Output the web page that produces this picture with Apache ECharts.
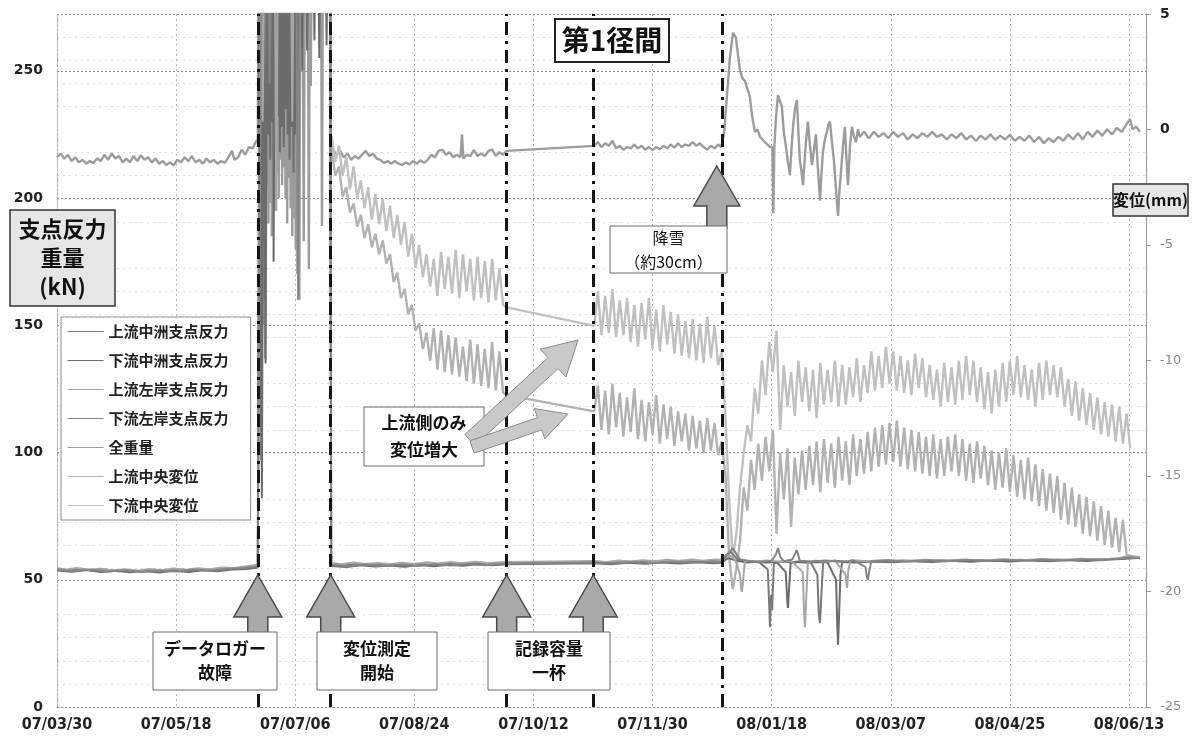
<!DOCTYPE html>
<html><head><meta charset="utf-8">
<script src="https://cdn.jsdelivr.net/npm/echarts@6/dist/echarts.min.js"></script>
<style>html,body{margin:0;padding:0;background:#fff}#c{width:1196px;height:744px}</style>
</head><body><div id="c"></div>
<script>
// ---------------- DATA ----------------
// x values are days since 2007/03/30
const seriesNames = ['上流中洲支点反力','下流中洲支点反力','上流左岸支点反力','下流左岸支点反力','全重量','上流中央変位','下流中央変位'];
const xTickInterval = 49;           // days between date labels (07/03/30, 07/05/18, ...)
const xMaxDay = 448;
const leftTicks = [0, 50, 100, 150, 200, 250];
const rightTicks = [-25, -20, -15, -10, -5, 0, 5];
// event days: データロガー故障, 変位測定開始, 記録容量一杯 (start / end), 降雪
const eventDays = [82.6, 112.6, 185, 220.6, 273.5];

// 上流中洲支点反力 (kN)
const reactUpMid = [[0,54.2],[5,53.6],[10,54.3],[15,53.5],[20,54],[25,53.3],[30,53.8],[35,53.2],[40,53.9],[45,53.4],[50,54.1],[55,53.6],[60,54.2],[65,53.9],[70,54.6],[75,54.3],[80,55.1],[82.6,55.6],
 [83.3,300],[84,97],[84.7,300],[85.5,160],[86.2,300],[112.4,300],
 [112.8,56.2],[118,55.6],[124,56.3],[130,55.7],[136,56.1],[142,55.6],[148,56.3],[154,55.9],[160,56.5],[166,56],[172,56.6],[178,56.2],[185,56.6],
 [221,57.1],[227,56.7],[233,57.3],[239,56.9],[245,57.4],[251,57],[257,57.5],[263,57.1],[269,57.6],[273.5,57.3],
 [275,59.5],[277,61],[279,59],[281,57.5],[285,57.2],[289,56.8],[292.4,54],[293,40],[293.3,31.4],[293.8,44],[294.2,38],[294.9,56.5],[298,57.2],[302,56.9],[306,57.3],[310,57],[312.8,52],[313.4,36],[313.9,33],[314.5,45],[315.2,57],[320,57.5],[326,57],[332,57.4],[340,57.1],[348,57.6],[356,57.2],[364,57.7],[372,57.3],[380,57.8],[388,57.4],[396,57.9],[404,57.5],[412,58],[420,57.6],[428,58.1],[436,58.3],[442,59],[445.5,58.4]];
// 下流中洲支点反力 (kN)
const reactDownMid = [[0,53.6],[6,53.1],[12,53.8],[18,53],[24,53.5],[30,52.9],[36,53.4],[42,52.8],[48,53.5],[54,53],[60,53.7],[66,53.3],[72,54],[78,54.2],[82.6,54.8],
 [83.5,300],[84.3,82],[85,300],[85.8,135],[86.5,300],[86.9,225],[87.3,300],[87.7,215],[88.1,300],[88.5,230],[88.9,300],[89.1,175],[89.7,300],[90.1,220],[90.5,300],[90.9,232],[91.3,300],[91.7,218],[92.1,300],[92.5,228],[92.9,300],[93.3,220],[93.7,300],[94.1,235],[94.5,300],[94.9,225],[95.3,300],[95.7,215],[96.1,300],[96.5,228],[96.9,300],[97.3,210],[97.7,300],[98.1,225],[98.5,300],[98.9,240],[99.3,300],[100.5,300],[100.9,250],[101.3,300],[102.5,300],[102.9,258],[103.3,300],[105.5,300],[105.9,262],[106.3,300],[107.5,300],[107.9,255],[108.3,300],[110.5,300],[110.9,260],[111.3,300],[112.4,300],
 [112.8,55.4],[119,55],[125,55.7],[131,55.2],[137,55.6],[143,55.1],[149,55.8],[155,55.3],[161,55.9],[167,55.5],[173,56.1],[179,55.7],[185,56.1],
 [221,56.5],[228,56.1],[235,56.7],[242,56.3],[249,56.8],[256,56.4],[263,56.9],[270,56.5],[273.5,56.7],
 [276,58.5],[280,57.5],[284,56.8],[288,57.1],[292,56.8],[296,57],[299.8,53],[300.4,42],[300.7,38.9],[301.2,47],[301.8,56.5],[305,57],[309,56.7],[313,57],[317,56.8],[320.5,50],[321,32],[321.3,24.4],[321.7,35],[322.3,52],[323,57],[328,56.8],[336,57.2],[344,56.9],[352,57.4],[360,57],[368,57.5],[376,57.1],[384,57.6],[392,57.2],[400,57.7],[408,57.3],[416,57.8],[424,57.4],[432,58],[438,58.2],[445.5,58.6]];
// 上流左岸支点反力 (kN)
const reactUpLeft = [[0,54.5],[4,54],[8,54.6],[13,53.8],[18,54.3],[23,53.6],[28,54.1],[33,53.5],[38,54.2],[43,53.7],[48,54.4],[53,53.9],[58,54.5],[63,54.1],[68,54.8],[73,54.6],[78,55.3],[82.6,55.9],
 [83.8,300],[84.6,230],[85.3,300],[89.6,300],[90.2,195],[90.9,300],[96.2,300],[96.8,230],[97.4,300],[112.4,300],
 [112.8,56.6],[117,56.1],[122,56.8],[127,56.2],[132,56.6],[137,56.1],[142,56.7],[147,56.2],[152,56.9],[157,56.4],[162,57],[167,56.5],[172,57.1],[177,56.6],[185,57],
 [221,57.4],[226,57],[231,57.6],[236,57.2],[241,57.7],[246,57.3],[251,57.9],[256,57.4],[261,58],[266,57.5],[271,58],[273.5,57.8],
 [276,60],[279,58],[281,52],[281.5,46],[281.8,45.2],[282.3,50],[283,57.5],[287,57.2],[292,57.6],[297,57.2],[302,57.5],[306.8,53],[307.3,38],[307.7,31.4],[308.2,42],[308.9,57],[312,57.5],[316,57.2],[320,57.6],[324.4,52],[325,46.8],[325.6,54],[326.5,57.8],[333,57.3],[341,57.8],[349,57.4],[357,57.9],[365,57.5],[373,58],[381,57.6],[389,58.1],[397,57.7],[405,58.2],[413,57.8],[421,58.3],[429,57.9],[437,58.5],[441,59.5],[445.5,58.8]];
// 下流左岸支点反力 (kN)
const reactDownLeft = [[0,53.9],[7,53.3],[14,54],[21,53.2],[28,53.7],[35,53],[42,53.6],[49,53.2],[56,53.9],[63,53.5],[70,54.2],[77,54.6],[82.6,55.2],
 [84,300],[86.8,300],[87.5,245],[88.2,300],[98.4,300],[99.2,160],[100,300],[112.4,300],
 [112.8,55.8],[120,55.3],[127,56],[134,55.4],[141,55.9],[148,55.4],[155,56.1],[162,55.6],[169,56.2],[176,55.7],[185,56.3],
 [221,56.8],[229,56.4],[237,57],[245,56.6],[253,57.1],[261,56.7],[269,57.2],[273.5,57],
 [276,60],[278.1,62.5],[279.5,60],[281,58],[285,57.4],[290,57],[294,57.5],[295.8,60],[296.6,62.5],[297.5,59],[299,57.3],[302.5,58],[304.4,61.7],[305.6,57.5],[310,57.2],[316,57.6],[322,57.1],[328,57.5],[332.6,55],[333.2,51],[333.6,49.9],[334.1,53],[335,57.3],[342,57.6],[350,57.2],[358,57.7],[366,57.3],[374,57.8],[382,57.4],[390,57.9],[398,57.5],[406,58],[414,57.6],[422,58.1],[430,57.7],[438,58.4],[445.5,58.5]];

// 全重量 (kN)
const totalWeight = [[0,216],[1.5,217.5],[3,215.5],[4.5,217],[6,214.5],[7.5,216],[9,214],[10.5,215],[12,213.5],[13.5,214.5],[15,213.8],[16.5,215.5],[18,214.5],[19.5,217],[21,215],[22.5,217.5],[24,215.5],[25.5,216.5],[27,214],[28.5,215.5],[30,214],[31.5,216.5],[33,214.5],[34.5,216.8],[36,215],[37.5,216],[39,214],[40.5,215.5],[42,213.5],[43.5,214.5],[45,213],[46.5,214],[48,212.8],[49.5,215],[51,214],[52.5,216],[54,214.5],[55.5,216.5],[57,214],[58.5,215],[60,213.5],[61.5,215.5],[63,214],[64.5,215],[66,213.5],[67.5,214.5],[69,213.8],[70.5,216],[72,218.5],[73,215],[74.5,216],[76,219],[77.5,217],[79,220],[80.5,219.5],[81.5,221.5],[82.6,223],
 [83,300],[83.6,300],[84.1,240],[84.5,300],[84.9,150],[85.3,300],[85.6,137],[86,300],[86.3,205],[86.7,300],[87,190],[87.4,300],[87.7,198],[88.1,300],[88.4,185],[88.8,300],[89.1,205],[89.5,300],[89.8,195],[90.2,300],[90.5,210],[90.9,300],[91.2,200],[91.6,300],[91.9,215],[92.3,300],[92.6,205],[93,300],[93.3,212],[93.7,300],[94,200],[94.4,300],[94.7,190],[95.1,300],[95.4,208],[95.8,300],[96.1,196],[96.5,300],[96.8,185],[97.2,300],[97.5,192],[97.9,300],[98.2,180],[98.6,300],[98.9,170],[99.3,300],[99.7,160],[100.1,300],[101,300],[101.5,183],[102,300],[103.2,300],[103.6,172],[104,300],[104.4,244],[104.8,300],[108.6,300],[109,189],[109.4,300],[112.3,300],
 [112.6,222],[113.5,219],[115,217],[116.5,218.5],[118,216],[119.5,217.5],[121,215],[122.5,216.5],[124,215.5],[125.5,217],[127,218.5],[128.5,216.5],[130,217.5],[131.5,215.5],[133,215],[134.5,213.8],[136,214.5],[137.5,213.5],[139,214.5],[140.5,213.5],[142,213],[143.5,214],[145,213.2],[146.5,214.5],[148,213.5],[149.5,214.8],[151,213.8],[152.5,215],[154,217],[155.5,216],[157,218.5],[158.5,219],[160,217],[161.5,218],[163,216],[164.5,217],[166,216],[166.6,225],[167.2,215.5],[168.5,217],[170,216.5],[171.5,218.8],[173,216.5],[174.5,217.5],[176,216.5],[177.5,218.5],[179,219],[180.5,216.5],[182,218],[183.5,217],[185,218.5],
 [221,220.5],[222.5,222],[224,220],[225.5,221.5],[227,220.5],[228.5,222.5],[230,219.5],[231.5,220.5],[233,219],[234.5,220],[236,219.5],[237.5,221],[239,219.5],[240.5,220.5],[242,219],[243.5,220],[245,218.8],[246.5,220],[248,219.2],[249.5,220.5],[251,219.5],[252.5,221],[254,219.8],[255.5,221.5],[257,220],[258.5,221],[260,220.5],[261.5,222],[263,220.5],[264.5,221.5],[266,220],[267.5,219],[269,220.5],[270.5,219.5],[272,221],[273.3,220],
 [274.5,226],[275.6,240],[276.8,255],[278.1,265],[279.3,263],[280.2,256],[281,250],[282,247],[283,246],[284,243],[285,240],[286,232],[287.1,226],[288.2,227],[289.2,224],[290.2,223],[291.2,222],[292.3,221],[293.3,220],[294.3,220],[294.7,194],[295.1,220],[295.8,232],[296.6,240.4],[297.4,238],[298.2,236],[299,226],[299.9,220],[300.7,214],[301.5,209],[302.2,220],[302.8,228],[303.6,235],[304.4,238.5],[305,226],[305.6,215],[306.2,211],[306.9,205],[307.5,214],[308.1,222],[308.9,230],[309.7,221],[310.6,213],[311.4,219],[312.2,225],[313,212],[313.9,199],[314.5,210],[315.1,218],[315.9,223],[316.7,226],[317.4,229],[318,230],[318.8,222],[319.6,215],[320.5,203],[321.3,193],[321.9,203],[322.5,210],[323.3,220],[324.1,228],[324.8,215],[325.4,205],[326.2,220],[327,228],[327.9,224],[328.7,222],[329.5,227],[330.3,224],[332,226],[334,223.5],[336,226],[338,224],[340,225.5],[342,223.5],[344,226],[346,224],[348,225.5],[350,223],[352,225],[354,223.5],[356,225.5],[358,224],[360,226],[362,224],[364,225],[366,223],[368,225],[370,223.5],[372,225.5],[374,223],[376,224.5],[378,222.5],[380,224.5],[382,223],[384,225],[386,222.8],[388,224.5],[390,223],[392,224.8],[394,222.5],[396,224],[398,222.5],[400,224.5],[402,222],[404,224],[406,221.5],[408,223.5],[410,222],[412,224],[414,222.5],[416,225],[418,223],[420,225.5],[422,223],[424,226],[426,224],[428,226.5],[430,224.5],[432,227],[434,225],[436,227.5],[438,226],[440,229],[441.4,231],[442.5,227],[444,228],[445.5,226]];

// displacement (mm), logged every DISP_STEP days from each segment start
const DISP_STEP = 1.5;
const upDispSeg1 = {start:113, values:[-0.9,-2.0,-1.6,-2.9,-2.5,-3.6,-3.2,-4.2,-3.7,-4.7,-4.1,-5.1,-4.5,-5.4,-4.8,-5.8,-5.4,-6.6,-6.2,-7.3,-6.9,-8.0,-7.6,-8.7,-8.4,-9.5,-8.8,-10.0,-8.6,-10.4,-8.7,-10.5,-8.9,-10.6,-9.0,-10.7,-9.4,-10.9,-9.1,-11.0,-9.3,-11.1,-9.5,-11.2,-9.2,-11.3,-9.6,-11.4,-11.5]};
const upDispSeg2 = {start:221, values:[-12.2,-11.1,-13.0,-11.3,-13.2,-11.0,-12.9,-11.4,-13.3,-11.6,-13.1,-11.2,-13.4,-11.7,-13.5,-11.8,-13.2,-11.5,-13.6,-11.9,-13.4,-12.0,-13.7,-12.2,-13.5,-12.3,-13.9,-12.4,-13.8,-12.6,-14.0,-12.5,-13.9,-12.7,-14.1,-13.5]};
const upDispSeg3 = {start:275, values:[-15.0,-18.5,-19.9,-19.0,-17.8,-15.5,-16.5,-14.3,-15.6,-13.6,-15.2,-13.3,-14.8,-13.0,-17.5,-14.0,-16.0,-13.8,-17.2,-14.2,-15.8,-13.9,-15.6,-13.7,-15.4,-13.5,-15.7,-13.4,-15.3,-13.6,-15.5,-13.3,-15.2,-13.5,-15.4,-13.2,-15.0,-13.4,-14.9,-13.1,-14.8,-12.9,-14.6,-12.8,-14.5,-12.7,-14.4,-12.6,-14.6,-12.9,-14.7,-13.0,-14.8,-13.1,-14.9,-13.3,-15.0,-13.2,-15.1,-13.4,-15.0,-13.3,-14.8,-13.2,-15.0,-13.4,-15.2,-13.6,-15.3,-13.5,-15.1,-13.7,-15.4,-13.9,-15.6,-14.0,-15.5,-13.8,-15.7,-14.1,-15.9,-14.3,-16.0,-14.2,-16.1,-14.5,-16.3,-14.7,-16.5,-14.9,-16.6,-15.0,-16.9,-15.3,-17.1,-15.5,-17.2,-15.8,-17.5,-15.9,-17.6,-16.1,-17.8,-16.3,-18.0,-16.5,-18.1,-16.8,-18.3,-16.9,-18.4,-18.6]};
const downDispSeg1 = {start:113, values:[-0.3,-1.4,-0.7,-2.0,-1.2,-2.6,-1.6,-3.0,-2.2,-3.4,-2.5,-3.9,-2.8,-4.1,-3.0,-4.4,-3.3,-4.7,-3.7,-5.0,-4.0,-5.5,-4.5,-6.0,-5.0,-6.4,-5.4,-6.8,-5.6,-7.2,-5.3,-6.9,-5.5,-7.1,-5.2,-7.3,-5.4,-7.0,-5.6,-7.4,-5.5,-7.3,-5.7,-7.5,-5.6,-7.4,-6.0,-7.6,-7.7]};
const downDispSeg2 = {start:221, values:[-8.5,-7.0,-8.9,-7.2,-8.8,-6.9,-9.0,-7.4,-8.9,-7.3,-9.2,-7.6,-9.4,-7.5,-9.1,-7.3,-9.5,-7.8,-9.6,-7.6,-9.3,-7.9,-9.7,-8.0,-9.8,-8.3,-9.9,-8.2,-10.0,-8.4,-10.1,-8.1,-9.9,-8.5,-10.2,-9.6]};
const downDispSeg3 = {start:275, values:[-12.5,-16.0,-18.5,-17.5,-15.5,-14.0,-12.8,-13.5,-11.2,-12.3,-10.0,-11.5,-9.2,-10.5,-8.7,-13.0,-10.2,-12.0,-10.5,-12.4,-10.0,-11.8,-10.3,-12.2,-10.4,-12.5,-10.1,-11.9,-10.4,-11.8,-10.0,-12.0,-10.2,-11.9,-10.3,-11.6,-9.9,-11.8,-10.2,-11.4,-9.6,-11.3,-9.8,-11.2,-9.4,-11.0,-9.6,-11.3,-9.8,-11.4,-10.0,-11.5,-9.7,-11.2,-9.9,-11.6,-10.2,-11.7,-10.4,-12.0,-10.1,-11.8,-10.3,-11.9,-10.0,-11.7,-9.8,-11.5,-10.0,-11.8,-10.3,-12.1,-10.5,-12.3,-10.4,-12.0,-10.1,-11.8,-10.0,-11.5,-9.8,-11.6,-10.2,-11.7,-10.4,-12.0,-10.1,-11.7,-10.0,-11.5,-10.2,-11.6,-10.3,-12.0,-10.8,-12.4,-10.9,-12.6,-11.2,-12.8,-11.4,-13.0,-11.6,-13.2,-11.8,-13.3,-11.9,-13.5,-12.0,-13.6,-12.3,-13.8]};

// ---------------- BUILD ----------------
function fromSegments(segs){
  const out = [];
  segs.forEach(s => s.values.forEach((v,i) => out.push([s.start + i*DISP_STEP, v])));
  return out;
}
const DAY0 = Date.UTC(2007, 2, 30);
function dayLabel(d){
  const t = new Date(DAY0 + Math.round(d)*86400000);
  const p = n => String(n).padStart(2,'0');
  return String(t.getUTCFullYear()).slice(2) + '/' + p(t.getUTCMonth()+1) + '/' + p(t.getUTCDate());
}

const chart = echarts.init(document.getElementById('c'), null, {renderer:'canvas'});
const cjk = "'Noto Sans CJK JP','Noto Sans',sans-serif";
const lineColors = ['#7a7a7a','#6c6c6c','#a6a6a6','#858585','#9c9c9c','#b2b2b2','#c0c0c0'];
const lineWidths = [2,2,2,2,2.4,2.4,2.4];
const dataSets = [reactUpMid, reactDownMid, reactUpLeft, reactDownLeft, totalWeight,
  fromSegments([upDispSeg1, upDispSeg2, upDispSeg3]),
  fromSegments([downDispSeg1, downDispSeg2, downDispSeg3])];

const series = seriesNames.map((name, i) => ({
  name, type:'line', data:dataSets[i], yAxisIndex: i >= 5 ? 1 : 0,
  symbol:'none', showSymbol:false, clip:true, animation:false,
  lineStyle:{color:lineColors[i], width:lineWidths[i]}, itemStyle:{color:lineColors[i]},
  z: i >= 5 ? 3 : (i === 4 ? 2 : 4)
}));
series[4].markLine = {
  silent:true, symbol:['none','none'], animation:false,
  label:{show:false},
  lineStyle:{color:'#151515', width:3, type:[13,6,3,6]},
  data: eventDays.map(d => ({xAxis:d}))
};

const option = {
  animation:false,
  backgroundColor:'#ffffff',
  textStyle:{fontFamily:cjk},
  grid:{left:57, right:50, top:14, bottom:37, containLabel:false},
  legend:{
    data:seriesNames, orient:'vertical', left:61, top:317,
    backgroundColor:'#ffffff', borderColor:'#8a8a8a', borderWidth:1,
    padding:[7,22,7,6], itemGap:14, itemWidth:36, itemHeight:14,
    itemStyle:{opacity:0},
    lineStyle:{width:1.2},
    textStyle:{fontFamily:cjk, fontSize:15, fontWeight:'bold', color:'#222'},
    selectedMode:false, z:20
  },
  xAxis:{
    type:'value', min:0, max:xMaxDay, interval:xTickInterval,
    axisLine:{show:true, lineStyle:{color:'#999', type:[2,2]}},
    axisTick:{show:false},
    splitLine:{show:true, lineStyle:{color:'#b4b4b4', type:[2,3]}},
    axisLabel:{
      margin:10, showMaxLabel:false,
      fontFamily:"'Liberation Sans Narrow','DejaVu Sans Condensed','Liberation Sans',sans-serif",
      fontSize:16, fontWeight:'bold', color:'#222',
      formatter: v => (v % xTickInterval === 0 ? dayLabel(v) : '')
    }
  },
  yAxis:[
    {
      type:'value', min:0, max:272.3, interval:50, position:'left',
      axisLine:{show:true, lineStyle:{color:'#aaa', type:[2,2]}},
      axisTick:{show:false},
      splitLine:{show:true, lineStyle:{color:'#8c8c8c', type:[2,2]}},
      axisLabel:{margin:14, showMaxLabel:false, fontFamily:"'DejaVu Sans',sans-serif", fontSize:14, fontWeight:'bold', color:'#222',
        formatter: v => (leftTicks.indexOf(v) >= 0 ? String(v) : '')}
    },
    {
      type:'value', min:-25, max:5, interval:5, position:'right',
      axisLine:{show:true, lineStyle:{color:'#9a9a9a', width:1}},
      axisTick:{show:true, inside:false, length:5, lineStyle:{color:'#999'}},
      splitLine:{show:false},
      minorTick:{show:false, splitNumber:5},
      minorSplitLine:{show:true, lineStyle:{color:'#dedede', type:[2,4]}},
      axisLabel:{margin:14, fontFamily:"'DejaVu Sans',sans-serif", fontSize:13,
        formatter: v => (rightTicks.indexOf(v) < 0 ? '' : (v >= 0 ? '{b|' + v + '}' : '{g|' + v + '}')),
        rich:{b:{fontWeight:'bold', color:'#222', fontSize:14, fontFamily:"'DejaVu Sans',sans-serif"},
              g:{color:'#8a8a8a', fontSize:13, fontFamily:"'DejaVu Sans',sans-serif"}}}
    }
  ],
  series
};
chart.setOption(option);

// ---------------- ANNOTATIONS ----------------
function upArrow(cx, tipY, H, hh, hw, sw){
  return [[cx,tipY],[cx+hw,tipY+hh],[cx+sw,tipY+hh],[cx+sw,tipY+H],[cx-sw,tipY+H],[cx-sw,tipY+hh],[cx-hw,tipY+hh]];
}
function blockArrow(sx, sy, ex, ey, ws, wh, L){
  const dx = ex-sx, dy = ey-sy, len = Math.hypot(dx,dy);
  const ux = dx/len, uy = dy/len, nx = -uy, ny = ux;
  const bx = ex - ux*L, by = ey - uy*L;
  return [[sx+nx*ws/2, sy+ny*ws/2],[bx+nx*ws/2, by+ny*ws/2],[bx+nx*wh/2, by+ny*wh/2],[ex,ey],
          [bx-nx*wh/2, by-ny*wh/2],[bx-nx*ws/2, by-ny*ws/2],[sx-nx*ws/2, sy-ny*ws/2]];
}
function box(x, y, w, h, text, opts){
  opts = opts || {};
  return {
    type:'group', z:50,
    children:[
      {type:'rect', shape:{x:0,y:0,width:w,height:h}, position:[x,y], z:50,
       style:{fill:opts.fill || '#fff', stroke:opts.stroke || '#6a6a6a', lineWidth:opts.lw || 1}},
      {type:'text', position:[x + w/2, y + h/2], z:51,
       style:{text, x:0, y:0, align:'center', verticalAlign:'middle',
              font:(opts.weight || 'bold') + ' ' + (opts.size || 17) + 'px ' + cjk,
              fill:'#111', lineHeight:opts.lh || 24}}
    ]
  };
}
const px = d => chart.convertToPixel({xAxisIndex:0}, d);
const arrowStyle = {fill:'#a9a9a9', stroke:'#4a4a4a', lineWidth:1.5};
const graphics = [];
[0,1,2,3].forEach(i => {
  graphics.push({type:'polygon', z:45, shape:{points:upArrow(px(eventDays[i]), 575, 60, 42, 24, 10)}, style:arrowStyle});
});
graphics.push({type:'polygon', z:45, shape:{points:upArrow(px(eventDays[4]) - 5, 166, 62, 40, 23, 10)}, style:arrowStyle});
graphics.push(box(153, 632, 124, 58, 'データロガー\n故障'));
graphics.push(box(317, 632, 120, 58, '変位測定\n開始'));
graphics.push(box(488, 632, 122, 58, '記録容量\n一杯'));
graphics.push(box(610, 226, 117, 47, '降雪\n（約30cm）', {size:16, weight:'normal', lh:24}));
graphics.push(box(364, 407, 120, 59, '上流側のみ\n変位増大', {size:17, lh:27}));
graphics.push({type:'polygon', z:55, shape:{points:blockArrow(470, 440, 578, 340, 15, 38, 34)}, style:{fill:'#c9c9c9', stroke:'#8a8a8a', lineWidth:1}});
graphics.push({type:'polygon', z:55, shape:{points:blockArrow(472, 447, 568, 414, 13, 32, 30)}, style:{fill:'#c9c9c9', stroke:'#8a8a8a', lineWidth:1}});
graphics.push(box(555, 19, 114, 43, '第1径間', {size:28, stroke:'#222', lw:2}));
graphics.push(box(10, 210, 105, 96, '支点反力\n重量\n(kN)', {size:22, fill:'#e6e6e6', stroke:'#333', lw:1.5, lh:29}));
graphics.push(box(1113, 184, 75, 32, '変位(mm)', {size:16, fill:'#e6e6e6', stroke:'#333', lw:1.5}));
chart.setOption({graphic:graphics});
</script>
</body></html>
